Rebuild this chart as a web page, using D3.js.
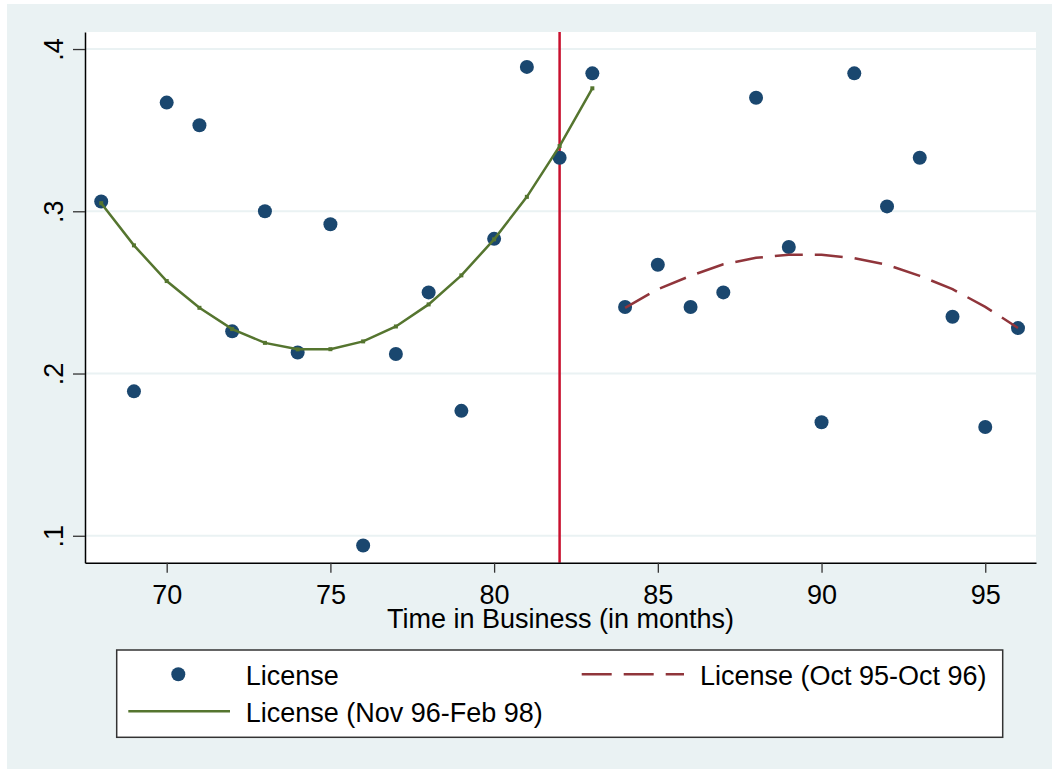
<!DOCTYPE html>
<html>
<head>
<meta charset="utf-8">
<script src="https://cdn.jsdelivr.net/npm/d3@7"></script>
<style>
  body { margin: 0; background: #fff; }
  text { font-family: "Liberation Sans", Arial, sans-serif; fill: #000; }
</style>
</head>
<body>
<script>
// months in business and observed license share
var months = [68, 69, 70, 71, 72, 73, 74, 75, 76, 77, 78, 79, 80, 81, 82,
              83, 84, 85, 86, 87, 88, 89, 90, 91, 92, 93, 94, 95, 96];
var license = [0.306, 0.189, 0.367, 0.353, 0.226, 0.300, 0.213, 0.292, 0.094, 0.212, 0.250, 0.177, 0.283, 0.389, 0.333,
               0.385, 0.241, 0.267, 0.241, 0.250, 0.370, 0.278, 0.170, 0.385, 0.303, 0.333, 0.235, 0.167, 0.228];

// fitted curve, Nov 96 - Feb 98
var fitMonthsA = [68, 69, 70, 71, 72, 73, 74, 75, 76, 77, 78, 79, 80, 81, 82, 83];
var fitA = [0.305, 0.279, 0.257, 0.2405, 0.2274, 0.2189, 0.2149, 0.2150, 0.2198, 0.2290, 0.2426, 0.2605, 0.2827, 0.3089, 0.3402, 0.3758];

// fitted curve, Oct 95 - Oct 96
var fitMonthsB = [84, 85, 86, 87, 88, 89, 90, 91, 92, 93, 94, 95, 96];
var fitB = [0.2405, 0.2520, 0.2602, 0.2673, 0.2713, 0.2732, 0.2732, 0.2711, 0.2670, 0.2602, 0.2520, 0.2411, 0.2281];

var xTicks = [70, 75, 80, 85, 90, 95];
var yTicks = [0.1, 0.2, 0.3, 0.4];
var cutMonth = 82;

var width = 1052, height = 769;
var bg = '#eaf2f3';

var svg = d3.select('body').append('svg')
    .attr('width', width)
    .attr('height', height);

svg.append('rect')
    .attr('x', 7).attr('y', 4)
    .attr('width', width - 7).attr('height', height - 4)
    .attr('fill', bg);

var x = d3.scaleLinear().domain([67.505, 96.55]).range([85, 1036]);
var y = d3.scaleLinear().domain([0.0834, 0.4105]).range([562.7, 32]);

// plot region
svg.append('rect')
    .attr('x', x.range()[0]).attr('y', y.range()[1])
    .attr('width', x.range()[1] - x.range()[0])
    .attr('height', y.range()[0] - y.range()[1])
    .attr('fill', '#fff');

// gridlines
svg.selectAll('line.grid')
    .data(yTicks)
    .enter()
        .append('line')
        .attr('class', 'grid')
        .attr('x1', x.range()[0]).attr('x2', x.range()[1])
        .attr('y1', function(d) { return y(d); })
        .attr('y2', function(d) { return y(d); })
        .attr('stroke', bg)
        .attr('stroke-width', 2);

// vertical cut line
svg.append('line')
    .attr('x1', x(cutMonth)).attr('x2', x(cutMonth))
    .attr('y1', y.range()[1]).attr('y2', y.range()[0])
    .attr('stroke', '#c8102e')
    .attr('stroke-width', 2.5);

// axes
var xAxis = svg.append('g')
    .attr('transform', 'translate(0,' + y.range()[0] + ')')
    .call(d3.axisBottom(x).tickValues(xTicks).tickSize(10).tickPadding(12).tickSizeOuter(0));
xAxis.select('.domain').attr('stroke', '#000').attr('stroke-width', 1.5);
xAxis.selectAll('.tick line').attr('stroke', '#333').attr('stroke-width', 1.3);
xAxis.selectAll('.tick text')
    .attr('font-size', 27)
    .attr('font-family', '"Liberation Sans", Arial, sans-serif')
    .attr('fill', '#000')
    .attr('dy', '0.72em');

var yAxis = svg.append('g')
    .attr('transform', 'translate(' + x.range()[0] + ',0)')
    .call(d3.axisLeft(y).tickValues(yTicks).tickSize(12).tickSizeOuter(0)
        .tickFormat(function(d) { return d3.format('.1f')(d).replace(/^0/, ''); }));
yAxis.select('.domain').attr('stroke', '#000').attr('stroke-width', 1.5);
yAxis.selectAll('.tick line').attr('stroke', '#333').attr('stroke-width', 1.3);
yAxis.selectAll('.tick text')
    .attr('font-size', 27)
    .attr('font-family', '"Liberation Sans", Arial, sans-serif')
    .attr('fill', '#000')
    .attr('x', null).attr('dy', null)
    .attr('text-anchor', 'middle')
    .attr('transform', 'translate(-22,0) rotate(-90)');

// axis title
svg.append('text')
    .attr('x', (x.range()[0] + x.range()[1]) / 2)
    .attr('y', 628)
    .attr('text-anchor', 'middle')
    .attr('font-size', 27)
    .text('Time in Business (in months)');

// scatter
svg.selectAll('circle.obs')
    .data(months)
    .enter()
        .append('circle')
        .attr('class', 'obs')
        .attr('cx', function(d) { return x(d); })
        .attr('cy', function(d, i) { return y(license[i]); })
        .attr('r', 7)
        .attr('fill', '#1a476f');

// fitted lines
function drawFit(xs, ys, color, dash) {
    var pts = xs.map(function(d, i) { return [d, ys[i]]; });
    var line = d3.line()
        .x(function(d) { return x(d[0]); })
        .y(function(d) { return y(d[1]); });
    svg.append('path')
        .datum(pts)
        .attr('d', line)
        .attr('fill', 'none')
        .attr('stroke', color)
        .attr('stroke-width', 2.5)
        .attr('stroke-dasharray', dash);
    svg.append('g').selectAll('rect')
        .data(dash ? [] : pts)
        .enter()
            .append('rect')
            .attr('x', function(d) { return x(d[0]) - 2; })
            .attr('y', function(d) { return y(d[1]) - 2; })
            .attr('width', 4).attr('height', 4)
            .attr('fill', color);
}
drawFit(fitMonthsA, fitA, '#55752f', null);
drawFit(fitMonthsB, fitB, '#90353b', '28,12');

// legend
var legend = svg.append('g');
legend.append('rect')
    .attr('x', 116.7).attr('y', 650)
    .attr('width', 886).attr('height', 87.3)
    .attr('fill', '#fff')
    .attr('stroke', '#333')
    .attr('stroke-width', 1.5);
legend.append('circle')
    .attr('cx', 178.3).attr('cy', 674.3).attr('r', 7)
    .attr('fill', '#1a476f');
legend.append('text')
    .attr('x', 245.7).attr('y', 684.5)
    .attr('font-size', 27)
    .text('License');
legend.append('line')
    .attr('x1', 581.7).attr('x2', 684).attr('y1', 674.3).attr('y2', 674.3)
    .attr('stroke', '#90353b').attr('stroke-width', 2.5)
    .attr('stroke-dasharray', '30,12');
legend.append('text')
    .attr('x', 700).attr('y', 684.5)
    .attr('font-size', 27)
    .text('License (Oct 95-Oct 96)');
legend.append('line')
    .attr('x1', 128.3).attr('x2', 230).attr('y1', 711.3).attr('y2', 711.3)
    .attr('stroke', '#55752f').attr('stroke-width', 2.5);
legend.append('text')
    .attr('x', 245.7).attr('y', 721.5)
    .attr('font-size', 27)
    .text('License (Nov 96-Feb 98)');
</script>
</body>
</html>
